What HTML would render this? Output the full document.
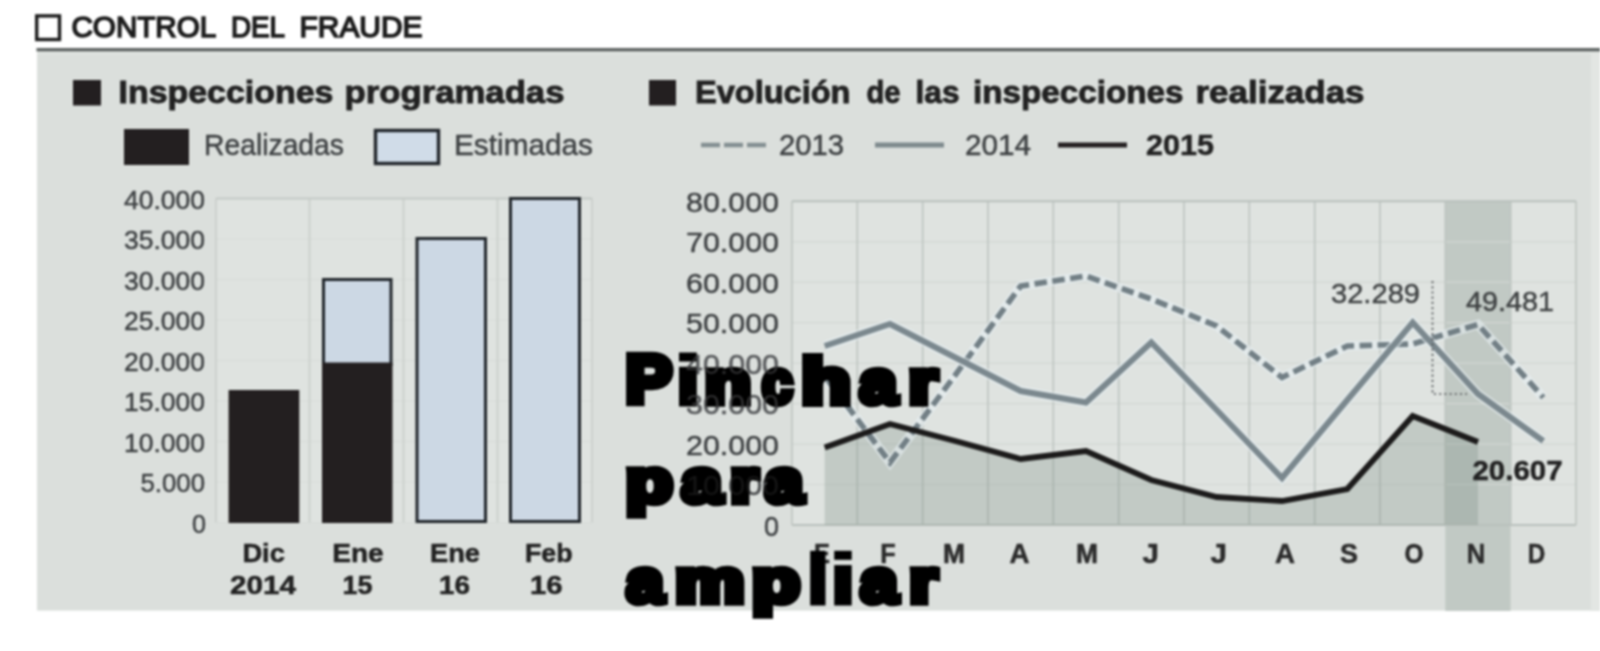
<!DOCTYPE html>
<html lang="es"><head><meta charset="utf-8"><title>Control del fraude</title>
<style>
html,body{margin:0;padding:0;background:#fff;}
body{width:1600px;height:651px;overflow:hidden;font-family:"Liberation Sans",sans-serif;}
svg{display:block;}
</style></head><body>
<svg width="1600" height="651" viewBox="0 0 1600 651" font-family="Liberation Sans, sans-serif">
<defs><filter id="soft" x="0" y="0" width="100%" height="100%" filterUnits="userSpaceOnUse" color-interpolation-filters="sRGB"><feGaussianBlur stdDeviation="0.9" edgeMode="duplicate"/></filter></defs>
<g filter="url(#soft)">
<rect x="0" y="0" width="1600" height="651" fill="#ffffff"/>
<rect x="37" y="50" width="1563" height="560.6" fill="#dbdfdc"/>
<rect x="1591" y="50" width="9" height="561" fill="#e3e6e3"/>
<rect x="37" y="51" width="1563" height="3" fill="#e2e6e3"/>
<rect x="36.5" y="48" width="1563.5" height="3.4" fill="#5f6463"/>
<rect x="36.7" y="15.9" width="22.8" height="23.6" fill="#fff" stroke="#1c1c1c" stroke-width="3.4"/>
<text x="71.5" y="37.0" font-size="29.8" font-weight="normal" fill="#1c1c1c" text-anchor="start" textLength="144.7" lengthAdjust="spacingAndGlyphs" stroke="#1c1c1c" stroke-width="1.6">CONTROL</text>
<text x="231.0" y="37.0" font-size="29.8" font-weight="normal" fill="#1c1c1c" text-anchor="start" textLength="54.0" lengthAdjust="spacingAndGlyphs" stroke="#1c1c1c" stroke-width="1.6">DEL</text>
<text x="299.5" y="37.0" font-size="29.8" font-weight="normal" fill="#1c1c1c" text-anchor="start" textLength="123.0" lengthAdjust="spacingAndGlyphs" stroke="#1c1c1c" stroke-width="1.6">FRAUDE</text>
<rect x="73" y="80" width="28" height="25.5" fill="#231f20"/>
<text x="118.5" y="103.0" font-size="31" font-weight="bold" fill="#222222" text-anchor="start" textLength="215.0" lengthAdjust="spacingAndGlyphs" stroke="#222222" stroke-width="0.9">Inspecciones</text>
<text x="344.5" y="103.0" font-size="31" font-weight="bold" fill="#222222" text-anchor="start" textLength="220.0" lengthAdjust="spacingAndGlyphs" stroke="#222222" stroke-width="0.9">programadas</text>
<rect x="124" y="129" width="65" height="36" fill="#231f20"/>
<text x="204.0" y="155.0" font-size="29" font-weight="normal" fill="#3e4143" text-anchor="start" textLength="140.0" lengthAdjust="spacingAndGlyphs" stroke="#3e4143" stroke-width="0.45">Realizadas</text>
<rect x="375.5" y="130.5" width="63" height="33" fill="#d0dce8" stroke="#20252a" stroke-width="3.4"/>
<text x="454.0" y="155.0" font-size="29" font-weight="normal" fill="#3e4143" text-anchor="start" textLength="139.0" lengthAdjust="spacingAndGlyphs" stroke="#3e4143" stroke-width="0.45">Estimadas</text>
<rect x="216" y="198.5" width="376" height="324.0" fill="#dfe3e0"/>
<line x1="216" x2="592" y1="198.5" y2="198.5" stroke="#d7dbd8" stroke-width="1.2"/>
<line x1="216" x2="592" y1="239.0" y2="239.0" stroke="#d7dbd8" stroke-width="1.2"/>
<line x1="216" x2="592" y1="279.5" y2="279.5" stroke="#d7dbd8" stroke-width="1.2"/>
<line x1="216" x2="592" y1="320.0" y2="320.0" stroke="#d7dbd8" stroke-width="1.2"/>
<line x1="216" x2="592" y1="360.5" y2="360.5" stroke="#d7dbd8" stroke-width="1.2"/>
<line x1="216" x2="592" y1="401.0" y2="401.0" stroke="#d7dbd8" stroke-width="1.2"/>
<line x1="216" x2="592" y1="441.5" y2="441.5" stroke="#d7dbd8" stroke-width="1.2"/>
<line x1="216" x2="592" y1="482.0" y2="482.0" stroke="#d7dbd8" stroke-width="1.2"/>
<line x1="216" x2="592" y1="522.5" y2="522.5" stroke="#d7dbd8" stroke-width="1.2"/>
<line x1="216" x2="216" y1="198.5" y2="522.5" stroke="#ccd1cd" stroke-width="2"/>
<line x1="309.5" x2="309.5" y1="198.5" y2="522.5" stroke="#ccd1cd" stroke-width="2"/>
<line x1="403.5" x2="403.5" y1="198.5" y2="522.5" stroke="#ccd1cd" stroke-width="2"/>
<line x1="497.5" x2="497.5" y1="198.5" y2="522.5" stroke="#ccd1cd" stroke-width="2"/>
<line x1="592" x2="592" y1="198.5" y2="522.5" stroke="#ccd1cd" stroke-width="2"/>
<line x1="216" x2="592" y1="198.5" y2="198.5" stroke="#c4c9c5" stroke-width="2"/>
<text x="124.0" y="208.5" font-size="26" font-weight="normal" fill="#3e4143" text-anchor="start" textLength="81.0" lengthAdjust="spacingAndGlyphs" stroke="#3e4143" stroke-width="0.45">40.000</text>
<text x="124.0" y="249.0" font-size="26" font-weight="normal" fill="#3e4143" text-anchor="start" textLength="81.0" lengthAdjust="spacingAndGlyphs" stroke="#3e4143" stroke-width="0.45">35.000</text>
<text x="124.0" y="289.5" font-size="26" font-weight="normal" fill="#3e4143" text-anchor="start" textLength="81.0" lengthAdjust="spacingAndGlyphs" stroke="#3e4143" stroke-width="0.45">30.000</text>
<text x="124.0" y="330.0" font-size="26" font-weight="normal" fill="#3e4143" text-anchor="start" textLength="81.0" lengthAdjust="spacingAndGlyphs" stroke="#3e4143" stroke-width="0.45">25.000</text>
<text x="124.0" y="370.5" font-size="26" font-weight="normal" fill="#3e4143" text-anchor="start" textLength="81.0" lengthAdjust="spacingAndGlyphs" stroke="#3e4143" stroke-width="0.45">20.000</text>
<text x="124.0" y="411.0" font-size="26" font-weight="normal" fill="#3e4143" text-anchor="start" textLength="81.0" lengthAdjust="spacingAndGlyphs" stroke="#3e4143" stroke-width="0.45">15.000</text>
<text x="124.0" y="451.5" font-size="26" font-weight="normal" fill="#3e4143" text-anchor="start" textLength="81.0" lengthAdjust="spacingAndGlyphs" stroke="#3e4143" stroke-width="0.45">10.000</text>
<text x="140.5" y="492.0" font-size="26" font-weight="normal" fill="#3e4143" text-anchor="start" textLength="64.5" lengthAdjust="spacingAndGlyphs" stroke="#3e4143" stroke-width="0.45">5.000</text>
<text x="192.0" y="532.5" font-size="26" font-weight="normal" fill="#3e4143" text-anchor="start" textLength="14.0" lengthAdjust="spacingAndGlyphs" stroke="#3e4143" stroke-width="0.45">0</text>
<rect x="228.6" y="390" width="70.70000000000002" height="133" fill="#231f20"/>
<rect x="323.5" y="279.5" width="67.5" height="85" fill="#ccd8e4" stroke="#20252a" stroke-width="3"/>
<rect x="322" y="362.5" width="70.5" height="160.5" fill="#231f20"/>
<rect x="417.0" y="238.5" width="68.5" height="283" fill="#ccd8e4" stroke="#20252a" stroke-width="3"/>
<rect x="510.5" y="198.5" width="69" height="323" fill="#ccd8e4" stroke="#20252a" stroke-width="3"/>
<text x="242.4" y="562.0" font-size="25.5" font-weight="bold" fill="#222222" text-anchor="start" textLength="42.5" lengthAdjust="spacingAndGlyphs" stroke="#222222" stroke-width="0.5">Dic</text>
<text x="230.0" y="594.3" font-size="26" font-weight="bold" fill="#222222" text-anchor="start" textLength="66.0" lengthAdjust="spacingAndGlyphs" stroke="#222222" stroke-width="0.5">2014</text>
<text x="332.2" y="562.0" font-size="25.5" font-weight="bold" fill="#222222" text-anchor="start" textLength="51.5" lengthAdjust="spacingAndGlyphs" stroke="#222222" stroke-width="0.5">Ene</text>
<text x="342.5" y="594.0" font-size="25.5" font-weight="bold" fill="#222222" text-anchor="start" textLength="30.0" lengthAdjust="spacingAndGlyphs" stroke="#222222" stroke-width="0.5">15</text>
<text x="430.0" y="562.0" font-size="25.5" font-weight="bold" fill="#222222" text-anchor="start" textLength="50.0" lengthAdjust="spacingAndGlyphs" stroke="#222222" stroke-width="0.5">Ene</text>
<text x="439.0" y="594.0" font-size="25.5" font-weight="bold" fill="#222222" text-anchor="start" textLength="31.0" lengthAdjust="spacingAndGlyphs" stroke="#222222" stroke-width="0.5">16</text>
<text x="525.0" y="562.0" font-size="25.5" font-weight="bold" fill="#222222" text-anchor="start" textLength="47.5" lengthAdjust="spacingAndGlyphs" stroke="#222222" stroke-width="0.5">Feb</text>
<text x="530.0" y="594.0" font-size="25.5" font-weight="bold" fill="#222222" text-anchor="start" textLength="32.5" lengthAdjust="spacingAndGlyphs" stroke="#222222" stroke-width="0.5">16</text>
<rect x="649" y="80" width="27" height="25.5" fill="#231f20"/>
<text x="695.0" y="102.5" font-size="31" font-weight="bold" fill="#222222" text-anchor="start" textLength="155.5" lengthAdjust="spacingAndGlyphs" stroke="#222222" stroke-width="0.9">Evolución</text>
<text x="866.5" y="102.5" font-size="31" font-weight="bold" fill="#222222" text-anchor="start" textLength="34.0" lengthAdjust="spacingAndGlyphs" stroke="#222222" stroke-width="0.9">de</text>
<text x="915.5" y="102.5" font-size="31" font-weight="bold" fill="#222222" text-anchor="start" textLength="44.0" lengthAdjust="spacingAndGlyphs" stroke="#222222" stroke-width="0.9">las</text>
<text x="973.0" y="102.5" font-size="31" font-weight="bold" fill="#222222" text-anchor="start" textLength="210.5" lengthAdjust="spacingAndGlyphs" stroke="#222222" stroke-width="0.9">inspecciones</text>
<text x="1195.5" y="102.5" font-size="31" font-weight="bold" fill="#222222" text-anchor="start" textLength="169.0" lengthAdjust="spacingAndGlyphs" stroke="#222222" stroke-width="0.9">realizadas</text>
<line x1="701" x2="766" y1="145" y2="145" stroke="#848f92" stroke-width="4.5" stroke-dasharray="19 4"/>
<text x="779.0" y="155.0" font-size="29" font-weight="normal" fill="#3e4143" text-anchor="start" textLength="65.0" lengthAdjust="spacingAndGlyphs" stroke="#3e4143" stroke-width="0.45">2013</text>
<line x1="875" x2="944" y1="145" y2="145" stroke="#7e8a8d" stroke-width="5"/>
<text x="965.0" y="155.0" font-size="29" font-weight="normal" fill="#3e4143" text-anchor="start" textLength="66.0" lengthAdjust="spacingAndGlyphs" stroke="#3e4143" stroke-width="0.45">2014</text>
<line x1="1058" x2="1127" y1="145" y2="145" stroke="#231f20" stroke-width="5"/>
<text x="1146.0" y="155.0" font-size="29" font-weight="bold" fill="#222222" text-anchor="start" textLength="68.0" lengthAdjust="spacingAndGlyphs" stroke="#222222" stroke-width="0.5">2015</text>
<rect x="792" y="201.3" width="784" height="323.7" fill="#dfe3e0"/>
<rect x="1445.3" y="201.3" width="65.3" height="409.7" fill="#c1c9c4"/>
<line x1="792" x2="1576" y1="201.3" y2="201.3" stroke="#d2d7d3" stroke-width="1.2"/>
<line x1="792" x2="1576" y1="241.8" y2="241.8" stroke="#d2d7d3" stroke-width="1.2"/>
<line x1="792" x2="1576" y1="282.2" y2="282.2" stroke="#d2d7d3" stroke-width="1.2"/>
<line x1="792" x2="1576" y1="322.7" y2="322.7" stroke="#d2d7d3" stroke-width="1.2"/>
<line x1="792" x2="1576" y1="363.1" y2="363.1" stroke="#d2d7d3" stroke-width="1.2"/>
<line x1="792" x2="1576" y1="403.6" y2="403.6" stroke="#d2d7d3" stroke-width="1.2"/>
<line x1="792" x2="1576" y1="444.1" y2="444.1" stroke="#d2d7d3" stroke-width="1.2"/>
<line x1="792" x2="1576" y1="484.5" y2="484.5" stroke="#d2d7d3" stroke-width="1.2"/>
<line x1="792" x2="1576" y1="525.0" y2="525.0" stroke="#d2d7d3" stroke-width="1.2"/>
<line x1="792.0" x2="792.0" y1="201.3" y2="525" stroke="#bdc4c0" stroke-width="1.6"/>
<line x1="857.3" x2="857.3" y1="201.3" y2="525" stroke="#bdc4c0" stroke-width="1.6"/>
<line x1="922.7" x2="922.7" y1="201.3" y2="525" stroke="#bdc4c0" stroke-width="1.6"/>
<line x1="988.0" x2="988.0" y1="201.3" y2="525" stroke="#bdc4c0" stroke-width="1.6"/>
<line x1="1053.3" x2="1053.3" y1="201.3" y2="525" stroke="#bdc4c0" stroke-width="1.6"/>
<line x1="1118.7" x2="1118.7" y1="201.3" y2="525" stroke="#bdc4c0" stroke-width="1.6"/>
<line x1="1184.0" x2="1184.0" y1="201.3" y2="525" stroke="#bdc4c0" stroke-width="1.6"/>
<line x1="1249.3" x2="1249.3" y1="201.3" y2="525" stroke="#bdc4c0" stroke-width="1.6"/>
<line x1="1314.7" x2="1314.7" y1="201.3" y2="525" stroke="#bdc4c0" stroke-width="1.6"/>
<line x1="1380.0" x2="1380.0" y1="201.3" y2="525" stroke="#bdc4c0" stroke-width="1.6"/>
<line x1="1445.3" x2="1445.3" y1="201.3" y2="525" stroke="#bdc4c0" stroke-width="1.6"/>
<line x1="1510.7" x2="1510.7" y1="201.3" y2="525" stroke="#bdc4c0" stroke-width="1.6"/>
<line x1="1576.0" x2="1576.0" y1="201.3" y2="525" stroke="#bdc4c0" stroke-width="1.6"/>
<line x1="792" x2="1576" y1="201.3" y2="201.3" stroke="#b9c0bc" stroke-width="2"/>
<line x1="792" x2="1576" y1="525" y2="525" stroke="#b9c0bc" stroke-width="2"/>
<polygon points="824.7,525 824.7,447.5 890.0,424 955.3,441 1020.7,459 1086.0,451 1151.3,480 1216.7,497 1282.0,501 1347.3,489 1412.7,416 1478.0,442 1478.0,525" fill="#77877e" fill-opacity="0.27"/>
<text x="686.0" y="211.9" font-size="28" font-weight="normal" fill="#3e4143" text-anchor="start" textLength="93.0" lengthAdjust="spacingAndGlyphs" stroke="#3e4143" stroke-width="0.45">80.000</text>
<text x="686.0" y="252.4" font-size="28" font-weight="normal" fill="#3e4143" text-anchor="start" textLength="93.0" lengthAdjust="spacingAndGlyphs" stroke="#3e4143" stroke-width="0.45">70.000</text>
<text x="686.0" y="292.8" font-size="28" font-weight="normal" fill="#3e4143" text-anchor="start" textLength="93.0" lengthAdjust="spacingAndGlyphs" stroke="#3e4143" stroke-width="0.45">60.000</text>
<text x="686.0" y="333.3" font-size="28" font-weight="normal" fill="#3e4143" text-anchor="start" textLength="93.0" lengthAdjust="spacingAndGlyphs" stroke="#3e4143" stroke-width="0.45">50.000</text>
<text x="686.0" y="373.8" font-size="28" font-weight="normal" fill="#3e4143" text-anchor="start" textLength="93.0" lengthAdjust="spacingAndGlyphs" stroke="#3e4143" stroke-width="0.45">40.000</text>
<text x="686.0" y="414.2" font-size="28" font-weight="normal" fill="#3e4143" text-anchor="start" textLength="93.0" lengthAdjust="spacingAndGlyphs" stroke="#3e4143" stroke-width="0.45">30.000</text>
<text x="686.0" y="454.7" font-size="28" font-weight="normal" fill="#3e4143" text-anchor="start" textLength="93.0" lengthAdjust="spacingAndGlyphs" stroke="#3e4143" stroke-width="0.45">20.000</text>
<text x="686.0" y="495.1" font-size="28" font-weight="normal" fill="#3e4143" text-anchor="start" textLength="93.0" lengthAdjust="spacingAndGlyphs" stroke="#3e4143" stroke-width="0.45">10.000</text>
<text x="764.0" y="535.6" font-size="28" font-weight="normal" fill="#3e4143" text-anchor="start" textLength="15.0" lengthAdjust="spacingAndGlyphs" stroke="#3e4143" stroke-width="0.45">0</text>
<text x="814.0" y="562.5" font-size="27" font-weight="bold" fill="#2b2b2b" text-anchor="start" textLength="16.0" lengthAdjust="spacingAndGlyphs" stroke="#2b2b2b" stroke-width="0.5">E</text>
<text x="880.2" y="562.5" font-size="27" font-weight="bold" fill="#2b2b2b" text-anchor="start" textLength="15.5" lengthAdjust="spacingAndGlyphs" stroke="#2b2b2b" stroke-width="0.5">F</text>
<text x="943.0" y="562.5" font-size="27" font-weight="bold" fill="#2b2b2b" text-anchor="start" textLength="22.0" lengthAdjust="spacingAndGlyphs" stroke="#2b2b2b" stroke-width="0.5">M</text>
<text x="1009.5" y="562.5" font-size="27" font-weight="bold" fill="#2b2b2b" text-anchor="start" textLength="20.0" lengthAdjust="spacingAndGlyphs" stroke="#2b2b2b" stroke-width="0.5">A</text>
<text x="1076.0" y="562.5" font-size="27" font-weight="bold" fill="#2b2b2b" text-anchor="start" textLength="22.0" lengthAdjust="spacingAndGlyphs" stroke="#2b2b2b" stroke-width="0.5">M</text>
<text x="1142.5" y="562.5" font-size="27" font-weight="bold" fill="#2b2b2b" text-anchor="start" textLength="16.5" lengthAdjust="spacingAndGlyphs" stroke="#2b2b2b" stroke-width="0.5">J</text>
<text x="1210.5" y="562.5" font-size="27" font-weight="bold" fill="#2b2b2b" text-anchor="start" textLength="16.5" lengthAdjust="spacingAndGlyphs" stroke="#2b2b2b" stroke-width="0.5">J</text>
<text x="1275.0" y="562.5" font-size="27" font-weight="bold" fill="#2b2b2b" text-anchor="start" textLength="20.0" lengthAdjust="spacingAndGlyphs" stroke="#2b2b2b" stroke-width="0.5">A</text>
<text x="1340.0" y="562.5" font-size="27" font-weight="bold" fill="#2b2b2b" text-anchor="start" textLength="18.0" lengthAdjust="spacingAndGlyphs" stroke="#2b2b2b" stroke-width="0.5">S</text>
<text x="1404.5" y="562.5" font-size="27" font-weight="bold" fill="#2b2b2b" text-anchor="start" textLength="19.0" lengthAdjust="spacingAndGlyphs" stroke="#2b2b2b" stroke-width="0.5">O</text>
<text x="1466.8" y="562.5" font-size="27" font-weight="bold" fill="#2b2b2b" text-anchor="start" textLength="18.5" lengthAdjust="spacingAndGlyphs" stroke="#2b2b2b" stroke-width="0.5">N</text>
<text x="1527.8" y="562.5" font-size="27" font-weight="bold" fill="#2b2b2b" text-anchor="start" textLength="17.5" lengthAdjust="spacingAndGlyphs" stroke="#2b2b2b" stroke-width="0.5">D</text>
<polyline points="824.7,376 890.0,462.5 955.3,375 1020.7,286 1086.0,276 1151.3,299 1216.7,326 1282.0,377.5 1347.3,346 1412.7,344 1478.0,324.5 1543.3,397.5" fill="none" stroke="#e6eef1" stroke-opacity="0.6" stroke-width="9.6" stroke-linejoin="miter"/>
<polyline points="824.7,376 890.0,462.5 955.3,375 1020.7,286 1086.0,276 1151.3,299 1216.7,326 1282.0,377.5 1347.3,346 1412.7,344 1478.0,324.5 1543.3,397.5" fill="none" stroke="#727f85" stroke-width="5.6" stroke-linejoin="miter" stroke-dasharray="12.5 5.5"/>
<polyline points="824.7,346 890.0,324 955.3,357.5 1020.7,391 1086.0,402.5 1151.3,342.5 1216.7,410 1282.0,478 1347.3,400 1412.7,322.5 1478.0,394 1543.3,441" fill="none" stroke="#e6eef1" stroke-opacity="0.6" stroke-width="10" stroke-linejoin="miter"/>
<polyline points="824.7,346 890.0,324 955.3,357.5 1020.7,391 1086.0,402.5 1151.3,342.5 1216.7,410 1282.0,478 1347.3,400 1412.7,322.5 1478.0,394 1543.3,441" fill="none" stroke="#7b888e" stroke-width="6" stroke-linejoin="miter" />
<polyline points="824.7,447.5 890.0,424 955.3,441 1020.7,459 1086.0,451 1151.3,480 1216.7,497 1282.0,501 1347.3,489 1412.7,416 1478.0,442" fill="none" stroke="#1c1b1b" stroke-width="5.8" stroke-linejoin="miter" />
<path d="M1432.5 281 V394 H1467" fill="none" stroke="#585b5c" stroke-width="1.7" stroke-dasharray="2.2 3"/>
<text x="1331.0" y="302.5" font-size="28.5" font-weight="normal" fill="#3f4243" text-anchor="start" textLength="89.0" lengthAdjust="spacingAndGlyphs" stroke="#3f4243" stroke-width="0.45">32.289</text>
<text x="1466.0" y="311.0" font-size="28.5" font-weight="normal" fill="#3f4243" text-anchor="start" textLength="88.0" lengthAdjust="spacingAndGlyphs" stroke="#3f4243" stroke-width="0.45">49.481</text>
<text x="1472.5" y="480.0" font-size="28" font-weight="bold" fill="#222222" text-anchor="start" textLength="90.0" lengthAdjust="spacingAndGlyphs" stroke="#222222" stroke-width="0.5">20.607</text>
<text transform="translate(625.70,402.35) scale(1.2329,1.1861)" x="0" y="0" font-size="56" font-weight="bold" fill="#000" stroke="#000" stroke-width="7" stroke-linejoin="miter">P</text>
<rect x="679" y="352.5" width="17.799999999999955" height="9" fill="#000"/>
<rect x="679" y="366.8" width="17.799999999999955" height="39.7" fill="#000"/>
<text transform="translate(704.74,402.69) scale(1.3513,1.0898)" x="0" y="0" font-size="56" font-weight="bold" fill="#000" stroke="#000" stroke-width="7" stroke-linejoin="miter">n</text>
<text transform="translate(762.09,402.68) scale(0.9820,1.0907)" x="0" y="0" font-size="56" font-weight="bold" fill="#000" stroke="#000" stroke-width="7" stroke-linejoin="miter">c</text>
<text transform="translate(801.41,402.55) scale(1.4368,1.1287)" x="0" y="0" font-size="56" font-weight="bold" fill="#000" stroke="#000" stroke-width="7" stroke-linejoin="miter">h</text>
<text transform="translate(859.71,402.68) scale(1.1883,1.0907)" x="0" y="0" font-size="56" font-weight="bold" fill="#000" stroke="#000" stroke-width="7" stroke-linejoin="miter">a</text>
<text transform="translate(908.75,402.69) scale(1.2988,1.0898)" x="0" y="0" font-size="56" font-weight="bold" fill="#000" stroke="#000" stroke-width="7" stroke-linejoin="miter">r</text>
<text transform="translate(625.74,502.17) scale(1.3686,1.0936)" x="0" y="0" font-size="56" font-weight="bold" fill="#000" stroke="#000" stroke-width="7" stroke-linejoin="miter">p</text>
<text transform="translate(681.69,502.16) scale(1.2833,1.0960)" x="0" y="0" font-size="56" font-weight="bold" fill="#000" stroke="#000" stroke-width="7" stroke-linejoin="miter">a</text>
<text transform="translate(730.56,502.17) scale(1.2534,1.0952)" x="0" y="0" font-size="56" font-weight="bold" fill="#000" stroke="#000" stroke-width="7" stroke-linejoin="miter">r</text>
<text transform="translate(765.25,502.16) scale(1.2127,1.0960)" x="0" y="0" font-size="56" font-weight="bold" fill="#000" stroke="#000" stroke-width="7" stroke-linejoin="miter">a</text>
<text transform="translate(626.41,601.68) scale(1.1883,1.0907)" x="0" y="0" font-size="56" font-weight="bold" fill="#000" stroke="#000" stroke-width="7" stroke-linejoin="miter">a</text>
<text transform="translate(675.34,601.69) scale(1.3884,1.0898)" x="0" y="0" font-size="56" font-weight="bold" fill="#000" stroke="#000" stroke-width="7" stroke-linejoin="miter">m</text>
<text transform="translate(751.93,601.69) scale(1.3970,1.0882)" x="0" y="0" font-size="56" font-weight="bold" fill="#000" stroke="#000" stroke-width="7" stroke-linejoin="miter">p</text>
<rect x="810.2" y="550.8" width="15.299999999999955" height="54.700000000000045" fill="#000"/>
<rect x="834.2" y="550.8" width="17.5" height="9" fill="#000"/>
<rect x="834.2" y="565.0999999999999" width="17.5" height="40.40000000000005" fill="#000"/>
<text transform="translate(860.50,601.68) scale(1.1856,1.0907)" x="0" y="0" font-size="56" font-weight="bold" fill="#000" stroke="#000" stroke-width="7" stroke-linejoin="miter">a</text>
<text transform="translate(909.46,601.69) scale(1.2617,1.0898)" x="0" y="0" font-size="56" font-weight="bold" fill="#000" stroke="#000" stroke-width="7" stroke-linejoin="miter">r</text>
<text x="686" y="373.8" font-size="28" fill="#9a9d9e" fill-opacity="0.3" textLength="93" lengthAdjust="spacingAndGlyphs">40.000</text>
<text x="686" y="414.2" font-size="28" fill="#9a9d9e" fill-opacity="0.3" textLength="93" lengthAdjust="spacingAndGlyphs">30.000</text>
<text x="686" y="495.1" font-size="28" fill="#9a9d9e" fill-opacity="0.14" textLength="93" lengthAdjust="spacingAndGlyphs">10.000</text>
</g>
</svg>
</body></html>
